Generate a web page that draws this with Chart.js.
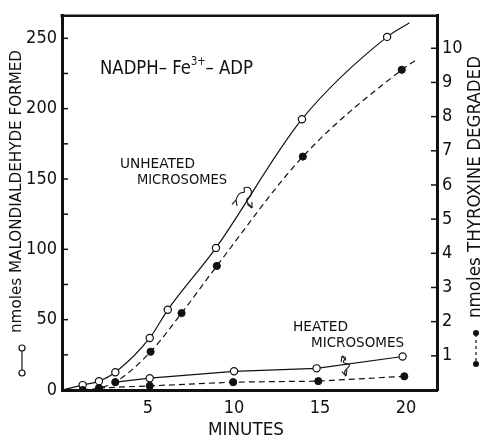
<!DOCTYPE html>
<html>
<head>
<meta charset="utf-8">
<script src="https://cdn.jsdelivr.net/npm/chart.js@4.4.1/dist/chart.umd.min.js"></script>
<style>
  html, body { margin: 0; padding: 0; background: #fff; }
  #wrap { width: 488px; height: 441px; }
</style>
</head>
<body>
<div id="wrap"><canvas id="grafica"></canvas></div>
<script>
// ── Datos ────────────────────────────────────────────────────
// Microsomas sin calentar: malondialdehído (eje izq., nmoles)
const minUnheatedMDA = [0, 1.2, 2.15, 3.1, 5.1, 6.15, 8.95, 13.95, 18.9, 20.2];
const mdaUnheated    = [0, 3.5, 6.3, 12.6, 37, 57, 101, 192.5, 251, 261];
// Microsomas sin calentar: tiroxina degradada (eje der., nmoles)
const minUnheatedT4  = [1.2, 2.15, 3.1, 5.15, 6.95, 9.0, 14.0, 19.75, 20.7];
const t4Unheated     = [0, 0.06, 0.23, 1.12, 2.25, 3.63, 6.83, 9.37, 9.7];
// Microsomas calentados
const minHeatedMDA   = [3.1, 5.1, 10, 14.8, 19.8];
const mdaHeated      = [5.6, 8.4, 13.3, 15.4, 23.8];
const minHeatedT4    = [2.15, 5.1, 9.95, 14.9, 19.9];
const t4Heated       = [0.06, 0.12, 0.23, 0.26, 0.4];

// ── Ticks ────────────────────────────────────────────────────
const xTicks     = [5, 10, 15, 20];
const yLeftTicks = [0, 25, 50, 75, 100, 125, 150, 175, 200, 225, 250];
const yRightTicks = [1, 2, 3, 4, 5, 6, 7, 8, 9, 10];

const FONT = '"Liberation Sans Narrow", "DejaVu Sans Condensed", "Liberation Sans", sans-serif';
const INK = '#111';

function pts(xs, ys) {
    return xs.map((x, i) => ({ x: x, y: ys[i] }));
}
// sin marcador en los extremos de curva que no son puntos medidos
function radios(n, sinInicio, sinFin) {
    return Array.from({ length: n }, (_, i) =>
        (sinInicio && i === 0) || (sinFin && i === n - 1) ? 0 : 3.6);
}

// ── Texto ajustado a un ancho ────────────────────────────────
function fitText(ctx, text, x, y, width, size) {
    ctx.save();
    ctx.font = size + 'px ' + FONT;
    const w = ctx.measureText(text).width;
    ctx.translate(x, y);
    ctx.scale(width / w, 1);
    ctx.textAlign = 'left';
    ctx.textBaseline = 'middle';
    ctx.fillText(text, 0, 0);
    ctx.restore();
}
function fitTextV(ctx, text, x, yBottom, len, size) {
    ctx.save();
    ctx.translate(x, yBottom);
    ctx.rotate(-Math.PI / 2);
    fitText(ctx, text, 0, 0, len, size);
    ctx.restore();
}
function arrowHead(ctx, x, y, ang) {
    ctx.beginPath();
    ctx.moveTo(x, y);
    ctx.lineTo(x - 6 * Math.cos(ang - 0.45), y - 6 * Math.sin(ang - 0.45));
    ctx.moveTo(x, y);
    ctx.lineTo(x - 6 * Math.cos(ang + 0.45), y - 6 * Math.sin(ang + 0.45));
    ctx.stroke();
}

// ── Plugin: marco, ticks interiores, títulos y anotaciones ───
const decoraciones = {
    id: 'decoraciones',
    afterDraw(chart) {
        const ctx = chart.ctx;
        const a = chart.chartArea;
        const yl = chart.scales.y, yr = chart.scales.y2;
        ctx.save();
        ctx.strokeStyle = INK;
        ctx.fillStyle = INK;

        // borde superior
        ctx.lineWidth = 2.5;
        ctx.beginPath();
        ctx.moveTo(a.left - 1.5, a.top);
        ctx.lineTo(a.right + 1.5, a.top);
        ctx.stroke();

        // ticks hacia dentro
        ctx.lineWidth = 1.5;
        yLeftTicks.forEach(v => {
            if (v === 0) return;
            const py = yl.getPixelForValue(v);
            ctx.beginPath(); ctx.moveTo(a.left, py); ctx.lineTo(a.left + 6, py); ctx.stroke();
        });
        yRightTicks.forEach(v => {
            const py = yr.getPixelForValue(v);
            ctx.beginPath(); ctx.moveTo(a.right - 6, py); ctx.lineTo(a.right, py); ctx.stroke();
        });

        // título eje izquierdo + símbolo
        fitTextV(ctx, 'nmoles MALONDIALDEHYDE FORMED', 17, 333, 283, 16);
        ctx.lineWidth = 1.2;
        ctx.beginPath(); ctx.moveTo(22, 351); ctx.lineTo(22, 370); ctx.stroke();
        [348, 373].forEach(py => {
            ctx.beginPath(); ctx.arc(22, py, 3, 0, Math.PI * 2);
            ctx.fillStyle = '#fff'; ctx.fill(); ctx.stroke();
        });
        ctx.fillStyle = INK;

        // título eje derecho + símbolo
        fitTextV(ctx, 'nmoles THYROXINE DEGRADED', 476, 318, 262, 17);
        ctx.setLineDash([3, 3]);
        ctx.beginPath(); ctx.moveTo(476, 334); ctx.lineTo(476, 364); ctx.stroke();
        ctx.setLineDash([]);
        [333, 364].forEach(py => {
            ctx.beginPath(); ctx.arc(476, py, 3, 0, Math.PI * 2); ctx.fill();
        });

        // título eje X
        fitText(ctx, 'MINUTES', 208, 431, 76, 17);

        // condición experimental
        ctx.save();
        ctx.font = '20px ' + FONT;
        const p1 = 'NADPH\u2013 Fe', p3 = '\u2013 ADP';
        const w1 = ctx.measureText(p1).width, w3 = ctx.measureText(p3).width;
        ctx.font = '12px ' + FONT;
        const w2 = ctx.measureText('3+').width;
        const k = 153 / (w1 + w2 + w3);
        ctx.translate(100, 69);
        ctx.scale(k, 1);
        ctx.textBaseline = 'middle';
        ctx.font = '20px ' + FONT;
        ctx.fillText(p1, 0, 0);
        ctx.font = '12px ' + FONT;
        ctx.fillText('3+', w1, -7);
        ctx.font = '20px ' + FONT;
        ctx.fillText(p3, w1 + w2, 0);
        ctx.restore();

        // etiquetas de curvas
        fitText(ctx, 'UNHEATED', 120, 164, 75, 14);
        fitText(ctx, 'MICROSOMES', 137, 180, 90, 14);
        fitText(ctx, 'HEATED', 293, 327, 55, 14);
        fitText(ctx, 'MICROSOMES', 311, 343, 93, 14);

        // flechas onduladas
        ctx.lineWidth = 1.1;
        ctx.beginPath();
        ctx.moveTo(236, 200);
        ctx.bezierCurveTo(240, 186, 246, 198, 244, 188);
        ctx.bezierCurveTo(252, 184, 254, 196, 248, 198);
        ctx.bezierCurveTo(244, 202, 250, 204, 252, 208);
        ctx.stroke();
        arrowHead(ctx, 236, 200, Math.atan2(14, -4) + Math.PI);
        arrowHead(ctx, 252, 208, Math.atan2(4, 2));

        ctx.beginPath();
        ctx.moveTo(342, 356);
        ctx.bezierCurveTo(352, 358, 336, 362, 348, 364);
        ctx.bezierCurveTo(354, 366, 340, 370, 346, 376);
        ctx.stroke();
        arrowHead(ctx, 342, 356, -Math.PI / 2 - 0.3);
        arrowHead(ctx, 346, 376, Math.PI / 2 - 0.3);

        ctx.restore();
    }
};

// ── Series ───────────────────────────────────────────────────
const abierto = { pointBackgroundColor: '#fff', pointBorderColor: INK, pointBorderWidth: 1.2,
                  borderColor: INK, borderWidth: 1.2, pointHoverRadius: 4 };
const relleno = { pointBackgroundColor: INK, pointBorderColor: INK, pointBorderWidth: 1,
                  borderColor: INK, borderWidth: 1.2, borderDash: [6, 4], pointHoverRadius: 4 };

new Chart(document.getElementById('grafica'), {
    type: 'scatter',
    data: {
        datasets: [
            Object.assign({ label: 'Heated T4', data: pts(minHeatedT4, t4Heated), yAxisID: 'y2',
                showLine: true, pointRadius: radios(minHeatedT4.length, true, false) }, relleno),
            Object.assign({ label: 'Heated MDA', data: pts(minHeatedMDA, mdaHeated), yAxisID: 'y',
                showLine: true, pointRadius: radios(minHeatedMDA.length, true, false) }, abierto),
            Object.assign({ label: 'Unheated T4', data: pts(minUnheatedT4, t4Unheated), yAxisID: 'y2',
                showLine: true, cubicInterpolationMode: 'monotone',
                pointRadius: radios(minUnheatedT4.length, false, true) }, relleno),
            Object.assign({ label: 'Unheated MDA', data: pts(minUnheatedMDA, mdaUnheated), yAxisID: 'y',
                showLine: true, cubicInterpolationMode: 'monotone',
                pointRadius: radios(minUnheatedMDA.length, true, true) }, abierto)
        ]
    },
    options: {
        responsive: true,
        maintainAspectRatio: false,
        animation: false,
        layout: { padding: { top: 10, left: 0, right: 0, bottom: 0 } },
        plugins: { legend: { display: false }, tooltip: { enabled: false } },
        scales: {
            x: {
                type: 'linear', min: 0, max: 21.8,
                afterBuildTicks: s => { s.ticks = xTicks.map(v => ({ value: v })); },
                afterFit: s => { s.height = 51; },
                grid: { display: false, drawTicks: false },
                border: { display: true, color: INK, width: 3 },
                ticks: { color: INK, padding: 8, font: { family: FONT, size: 18 } }
            },
            y: {
                type: 'linear', position: 'left', min: 0, max: 266,
                afterBuildTicks: s => { s.ticks = yLeftTicks.map(v => ({ value: v })); },
                afterFit: s => { s.width = 62; },
                grid: { display: false, drawTicks: false },
                border: { display: true, color: INK, width: 3 },
                ticks: { color: INK, padding: 5, font: { family: FONT, size: 18 },
                         callback: v => v % 50 === 0 ? v : '' }
            },
            y2: {
                type: 'linear', position: 'right', min: 0, max: 10.95,
                afterBuildTicks: s => { s.ticks = yRightTicks.map(v => ({ value: v })); },
                afterFit: s => { s.width = 51; },
                grid: { display: false, drawTicks: false },
                border: { display: true, color: INK, width: 3 },
                ticks: { color: INK, padding: 5, font: { family: FONT, size: 18 } }
            }
        }
    },
    plugins: [decoraciones]
});
</script>
</body>
</html>
